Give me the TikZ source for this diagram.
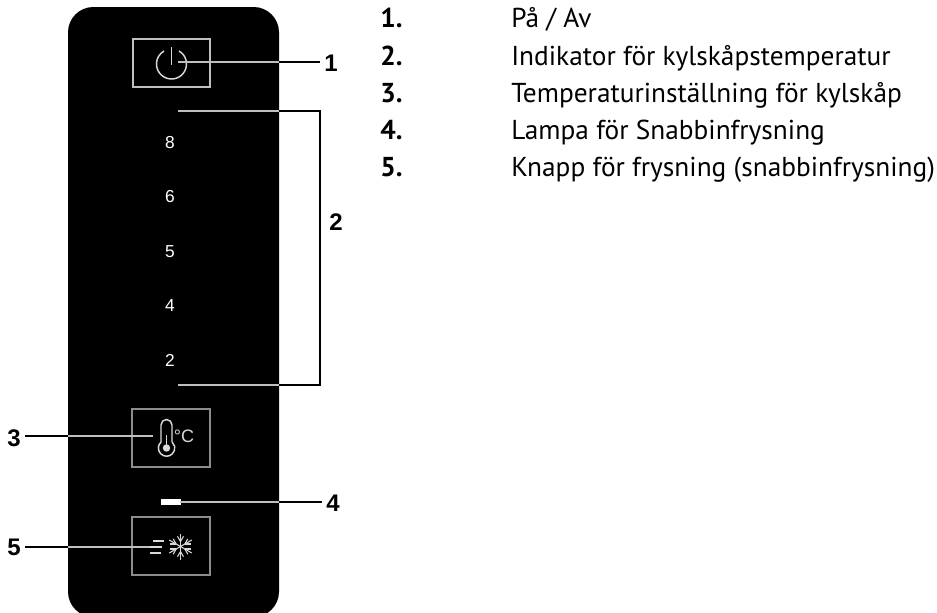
\documentclass[tikz,border=0pt]{standalone}
\usepackage{fontspec}
\setmainfont{PT Sans}
\newfontfamily\arialfont{Liberation Sans}
\definecolor{leadgray}{gray}{0.75}
\definecolor{icongray}{gray}{0.85}
\definecolor{boxgray}{gray}{0.55}
\tikzset{
  callout/.style={font=\arialfont\fontsize{18}{18}\selectfont\bfseries,inner sep=3pt},
  scale num/.style={font=\arialfont\fontsize{13}{13}\selectfont,text=white,inner sep=0pt},
  legend num/.style={font=\fontsize{20.5}{22}\selectfont\bfseries,anchor=base west,inner sep=0pt},
  legend text/.style={font=\fontsize{20.5}{22}\selectfont,anchor=base west,inner sep=0pt},
  lead in/.style={draw=leadgray,line width=1.5pt},
  lead out/.style={draw=black,line width=1.4pt},
  icon/.style={draw=icongray,line width=1.1pt},
}
\begin{document}
\begin{tikzpicture}[x=0.75pt,y=-0.75pt]
    \useasboundingbox (0,0) rectangle (937,612);
    \begin{scope}
    \clip (0,0) rectangle (937,612);
    \fill[black,rounded corners=19pt] (68,7) rectangle (279,617);
    \end{scope}
    % buttons
    \draw[draw=leadgray,line width=1.1pt] (133,39) rectangle (210,87);
    \draw[draw=boxgray,line width=1.1pt] (132,409) rectangle (210,467);
    \draw[draw=boxgray,line width=1.1pt] (132,517) rectangle (210,575);
    % power symbol
    \draw[icon] (179,51) arc[start angle=-60,end angle=240,radius=15];
    \draw[icon] (171.5,47) -- (171.5,65);
    % thermometer
    \draw[icon] (172,442) -- (172,425) arc[start angle=360,end angle=180,radius=5.5] -- (161,442)
      arc[start angle=227,end angle=-47,radius=8.2];
    \fill[icongray] (166.5,448) circle (3.7);
    \draw[icon,line width=1.3pt] (166.5,435) -- (166.5,447);
    \node[font=\arialfont\fontsize{13.5}{13}\selectfont,text=icongray,inner sep=0pt] (degree) at (184,436) {°C};
    % snowflake
    \foreach \a in {0,60,120,180,240,300} {
      \draw[icon,line width=0.8pt] (180.5,546.5) -- ++(\a+30:13);
      \draw[icon,line width=0.8pt] (180.5,546.5) ++(\a+30:5) -- ++(\a:6);
      \draw[icon,line width=0.8pt] (180.5,546.5) ++(\a+30:5) -- ++(\a+60:6);
    }
    \draw[icon,line width=0.8pt] (153,541) -- (164,541);
    \draw[icon,line width=0.8pt] (150,553) -- (161,553);
    \draw[icon,line width=0.8pt] (150,547) -- (162,547);
    % scale
    \node[scale num] (s8) at (170,143) {8};
    \node[scale num] (s6) at (170,197) {6};
    \node[scale num] (s5) at (170,252) {5};
    \node[scale num] (s4) at (170,306) {4};
    \node[scale num] (s2) at (170,360) {2};
    % lamp
    \fill[white] (161,499) rectangle (181,505);
    % callouts
    \node[callout] (c1) at (331,63) {1};
    \node[callout] (c2) at (336,222) {2};
    \node[callout] (c3) at (14,438) {3};
    \node[callout] (c4) at (333,503) {4};
    \node[callout] (c5) at (14,547) {5};
    \coordinate (a1) at (178,62);
    \coordinate (e1) at (279,62);
    \coordinate (a2) at (178,111);
    \coordinate (e2) at (279,111);
    \coordinate (b2) at (178,385);
    \coordinate (f2) at (279,385);
    \coordinate (t2) at (320,111);
    \coordinate (u2) at (320,385);
    \coordinate (a3) at (153,436);
    \coordinate (e3) at (68,436);
    \coordinate (a4) at (180,502);
    \coordinate (e4) at (279,502);
    \coordinate (a5) at (150,547);
    \coordinate (e5) at (68,547);
    \draw[lead in] (a1) -- (e1);
    \draw[lead out] (e1) -- (c1.west |- e1);
    \draw[lead in] (a2) -- (e2);
    \draw[lead in] (b2) -- (f2);
    \draw[lead out] (e2) -- (t2) -- (u2) -- (f2);
    \draw[lead in] (a3) -- (e3);
    \draw[lead out] (e3) -- (c3.east |- e3);
    \draw[lead in] (a4) -- (e4);
    \draw[lead out] (e4) -- (c4.west |- e4);
    \draw[lead in] (a5) -- (e5);
    \draw[lead out] (e5) -- (c5.east |- e5);
    % legend
    \node[legend num] (n1) at (380,27) {1.};
    \node[legend text] (l1) at (511,27) {På / Av};
    \node[legend num] (n2) at (380,65) {2.};
    \node[legend text] (l2) at (511,65) {Indikator för kylskåpstemperatur};
    \node[legend num] (n3) at (380,102) {3.};
    \node[legend text] (l3) at (511,102) {Temperaturinställning för kylskåp};
    \node[legend num] (n4) at (380,139) {4.};
    \node[legend text] (l4) at (511,139) {Lampa för Snabbinfrysning};
    \node[legend num] (n5) at (380,176) {5.};
    \node[legend text] (l5) at (511,176) {Knapp för frysning (snabbinfrysning)};
  \end{tikzpicture}
\end{document}
